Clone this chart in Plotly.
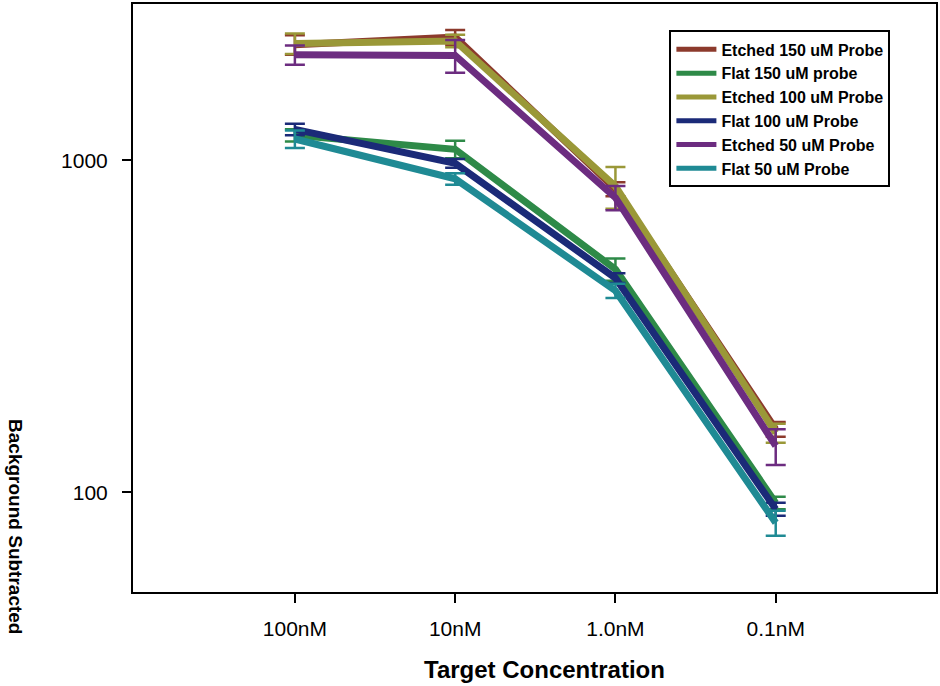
import plotly.graph_objects as go

categories = ["100nM", "10nM", "1.0nM", "0.1nM"]
x_pos = [0, 1, 2, 3]

series_names = ["Etched 150 uM Probe", "Flat 150 uM probe", "Etched 100 uM Probe",
                "Flat 100 uM Probe", "Etched 50 uM Probe", "Flat 50 uM Probe"]
etched150 = [2230, 2350, 820, 155]
etched150_err = [150, 120, 40, 8]
flat150 = [1190, 1080, 470, 93]
flat150_err = [50, 65, 36, 4]
etched100 = [2250, 2290, 835, 151]
etched100_err = [160, 100, 120, 10]
flat100 = [1240, 980, 442, 89]
flat100_err = [50, 30, 15, 4]
etched50 = [2080, 2070, 772, 138]
etched50_err = [140, 235, 65, 17]
flat50 = [1160, 880, 405, 81]
flat50_err = [70, 35, 20, 7]

values = [etched150, flat150, etched100, flat100, etched50, flat50]
errors = [etched150_err, flat150_err, etched100_err, flat100_err, etched50_err, flat50_err]
colors = ["#8c3a2c", "#2e8a48", "#9a9838", "#1b2a78", "#6c2c80", "#1f8a94"]

y_ticks = [100, 1000]

fig = go.Figure()
for name, v, e, c in zip(series_names, values, errors, colors):
    fig.add_trace(go.Scatter(
        x=x_pos, y=v, name=name, mode="lines",
        line=dict(color=c, width=7),
        error_y=dict(type="data", array=e, visible=True, color=c, thickness=2.5, width=10),
    ))

fig.update_layout(
    width=940, height=686,
    margin=dict(l=133, r=3, t=2, b=94),
    paper_bgcolor="white", plot_bgcolor="white",
    font=dict(family="Liberation Sans, Arial, sans-serif", color="black", size=16),
    showlegend=True,
    legend=dict(
        x=0.668, y=0.955, xanchor="left", yanchor="top",
        bordercolor="black", borderwidth=2, bgcolor="white",
        font=dict(size=16, family="Liberation Sans, Arial, sans-serif", color="black", weight="bold"),
        tracegroupgap=0, itemsizing="constant", itemwidth=40,
    ),
    xaxis=dict(
        range=[-1.01, 4.0], tickvals=x_pos, ticktext=categories,
        showgrid=False, zeroline=False,
        showline=True, linecolor="black", linewidth=2, mirror=True,
        ticks="outside", ticklen=9, tickwidth=1.5, tickcolor="black",
        tickfont=dict(size=21), ticklabelstandoff=8,
    ),
    yaxis=dict(
        type="log", range=[1.7, 3.471], tickvals=y_ticks, ticktext=["100", "1000"],
        showgrid=False, zeroline=False,
        showline=True, linecolor="black", linewidth=2, mirror=True,
        ticks="outside", ticklen=9, tickwidth=1.5, tickcolor="black",
        tickfont=dict(size=21), ticklabelstandoff=10,
    ),
    annotations=[
        dict(text="<b>Target Concentration</b>", xref="paper", yref="paper",
             x=0.512, y=-0.132, xanchor="center", yanchor="middle",
             showarrow=False, font=dict(size=24)),
        dict(text="<b>Background Subtracted</b>", xref="paper", yref="paper",
             x=(16 - 133) / 804, y=(592 - 526) / 590, xanchor="center", yanchor="middle", textangle=90,
             showarrow=False, font=dict(size=19)),
    ],
)

fig.write_html("out.html")
